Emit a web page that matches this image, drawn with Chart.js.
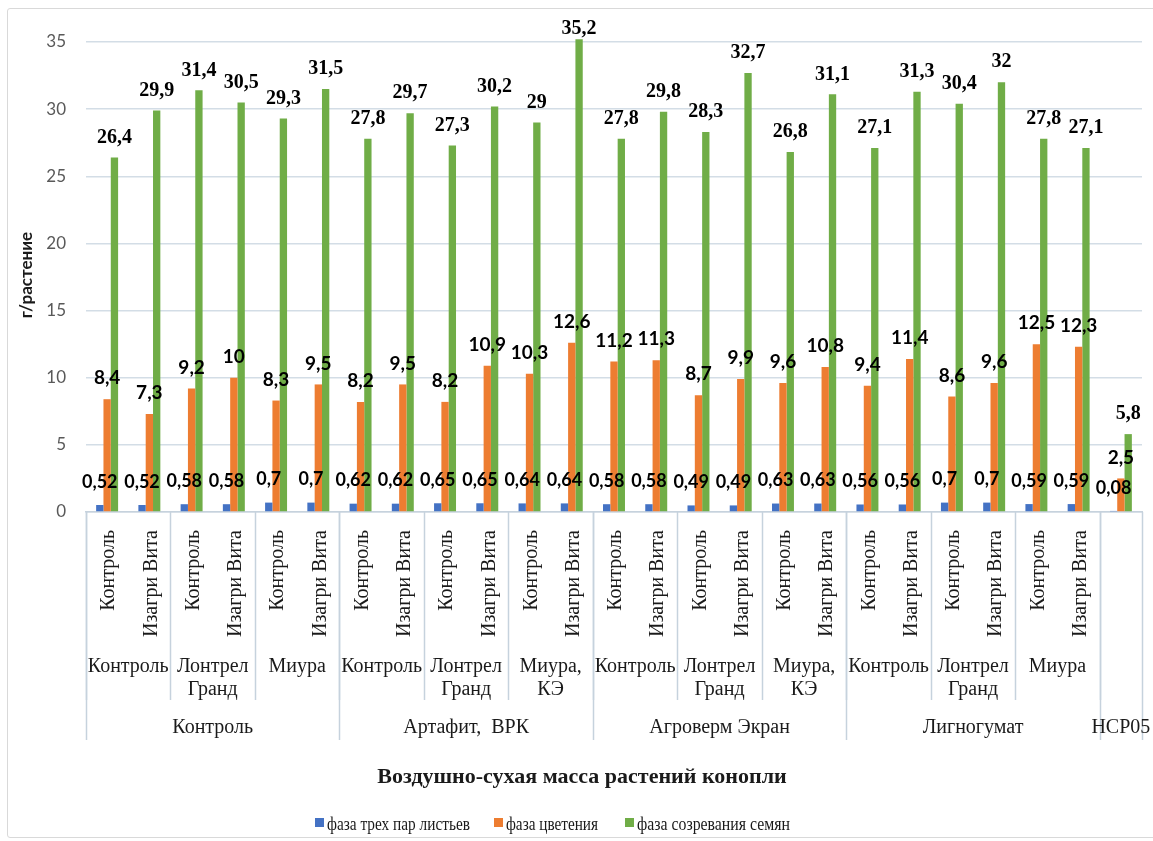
<!DOCTYPE html>
<html lang="ru">
<head>
<meta charset="utf-8">
<title>Воздушно-сухая масса растений конопли</title>
<script src="https://cdn.jsdelivr.net/npm/chart.js@4.4.1/dist/chart.umd.min.js"></script>
<style>
  html, body { margin: 0; padding: 0; background: #fff; }
  #wrap { position: relative; width: 1153px; height: 841px; overflow: hidden; }
  #frame { position: absolute; left: 7px; top: 8px; width: 1160px; height: 828px; border: 1px solid #d9d9d9; border-radius: 3px; }
  canvas { position: absolute; left: 0; top: 0; }
  .preload { font-family: "Liberation Serif"; position: absolute; left: -999px; }
</style>
</head>
<body>
<div id="wrap">
  <div id="frame"></div>
  <canvas id="chart" width="1153" height="841"></canvas>
</div>
<span class="preload">Контроль</span>
<span class="preload" style="font-weight:bold">Контроль</span>
<span class="preload" style="font-family:Lato">0,5</span>
<span class="preload" style="font-family:Lato;font-weight:bold">0,5</span>
<script>
// lowest label row (rotated), one per bar group
const treatments = [
  'Контроль', 'Изагри Вита', 'Контроль', 'Изагри Вита', 'Контроль', 'Изагри Вита',
  'Контроль', 'Изагри Вита', 'Контроль', 'Изагри Вита', 'Контроль', 'Изагри Вита',
  'Контроль', 'Изагри Вита', 'Контроль', 'Изагри Вита', 'Контроль', 'Изагри Вита',
  'Контроль', 'Изагри Вита', 'Контроль', 'Изагри Вита', 'Контроль', 'Изагри Вита',
  ''
];
// middle row, each covers two bar groups
const herbicides = [
  'Контроль', 'Лонтрел\nГранд', 'Миура',
  'Контроль', 'Лонтрел\nГранд', 'Миура,\nКЭ',
  'Контроль', 'Лонтрел\nГранд', 'Миура,\nКЭ',
  'Контроль', 'Лонтрел\nГранд', 'Миура'
];
// top row and how many bar groups each covers
const preparations = ['Контроль', 'Артафит,  ВРК', 'Агроверм Экран', 'Лигногумат', 'НСР05'];
const preparationSpans = [6, 6, 6, 6, 1];

const seriesNames = ['фаза трех пар листьев', 'фаза цветения', 'фаза созревания семян'];
const leafPhase = [0.52, 0.52, 0.58, 0.58, 0.7, 0.7, 0.62, 0.62, 0.65, 0.65, 0.64, 0.64,
  0.58, 0.58, 0.49, 0.49, 0.63, 0.63, 0.56, 0.56, 0.7, 0.7, 0.59, 0.59, 0.08];
const floweringPhase = [8.4, 7.3, 9.2, 10, 8.3, 9.5, 8.2, 9.5, 8.2, 10.9, 10.3, 12.6,
  11.2, 11.3, 8.7, 9.9, 9.6, 10.8, 9.4, 11.4, 8.6, 9.6, 12.5, 12.3, 2.5];
const seedPhase = [26.4, 29.9, 31.4, 30.5, 29.3, 31.5, 27.8, 29.7, 27.3, 30.2, 29, 35.2,
  27.8, 29.8, 28.3, 32.7, 26.8, 31.1, 27.1, 31.3, 30.4, 32, 27.8, 27.1, 5.8];

const colors = ['#4472c4', '#ed7d31', '#70ad47'];
const lineColor = '#c6d2dd';
const textColor = '#1a1a1a';
const serif = '"Liberation Serif", "Times New Roman", Tinos, serif';

const fmt = v => String(v).replace('.', ',');

// value labels above bars
const valueLabels = {
  id: 'valueLabels',
  afterDatasetsDraw(chart) {
    const ctx = chart.ctx;
    const fonts = ['bold 18px Lato', 'bold 19px Lato', 'bold 20px ' + serif];
    const offsets = [23, 21, 20];
    ctx.save();
    ctx.fillStyle = '#000';
    ctx.textAlign = 'center';
    ctx.textBaseline = 'middle';
    chart.data.datasets.forEach((ds, i) => {
      const meta = chart.getDatasetMeta(i);
      ctx.font = fonts[i];
      meta.data.forEach((bar, j) => {
        ctx.fillText(fmt(ds.data[j]), bar.x, Math.max(29, bar.y - offsets[i]));
      });
    });
    ctx.restore();
  }
};

// multi level category axis, titles and legend
const decorations = {
  id: 'decorations',
  afterDraw(chart) {
    const ctx = chart.ctx;
    const area = chart.chartArea;
    const w = (area.right - area.left) / treatments.length;
    const edge = n => area.left + n * w;
    const base = area.bottom;

    ctx.save();
    ctx.strokeStyle = lineColor;
    ctx.lineWidth = 1.5;
    // short separators between pairs
    for (let k = 0; k <= herbicides.length; k++) {
      const x = Math.round(edge(2 * k)) + 0.5;
      ctx.beginPath(); ctx.moveTo(x, base); ctx.lineTo(x, 700); ctx.stroke();
    }
    // long separators between preparations
    let n = 0;
    const starts = [0];
    preparationSpans.forEach(s => { n += s; starts.push(n); });
    starts.forEach(s => {
      const x = Math.round(edge(s)) + 0.5;
      ctx.beginPath(); ctx.moveTo(x, base); ctx.lineTo(x, 740); ctx.stroke();
    });

    ctx.fillStyle = textColor;
    ctx.font = '20px ' + serif;
    // rotated treatment labels
    treatments.forEach((t, i) => {
      if (!t) return;
      ctx.save();
      ctx.translate(edge(i) + w / 2 + 2, 530);
      ctx.rotate(-Math.PI / 2);
      ctx.textAlign = 'right';
      ctx.textBaseline = 'middle';
      ctx.fillText(t, 0, 0);
      ctx.restore();
    });
    // herbicide labels
    ctx.textAlign = 'center';
    ctx.textBaseline = 'middle';
    herbicides.forEach((h, k) => {
      const cx = edge(2 * k + 1);
      h.split('\n').forEach((line, li) => ctx.fillText(line, cx, 667 + li * 23));
    });
    // preparation labels
    preparations.forEach((p, g) => {
      const cx = (edge(starts[g]) + edge(starts[g + 1])) / 2;
      ctx.fillText(p, cx, 728);
    });

    // axis titles
    ctx.font = 'bold 22px ' + serif;
    ctx.fillText('Воздушно-сухая масса растений конопли', 582, 777);
    ctx.save();
    ctx.translate(27, 275);
    ctx.rotate(-Math.PI / 2);
    ctx.font = 'bold 17px Lato';
    ctx.fillText('г/растение', 0, 0);
    ctx.restore();

    // legend (text squeezed a little, as in the source picture)
    const legendX = [315, 494, 625];
    const legendW = [143, 92, 153];
    ctx.font = '18px ' + serif;
    ctx.textAlign = 'left';
    seriesNames.forEach((name, i) => {
      ctx.fillStyle = colors[i];
      ctx.fillRect(legendX[i], 818, 9, 9);
      ctx.fillStyle = textColor;
      const sx = Math.min(1, legendW[i] / ctx.measureText(name).width);
      ctx.save();
      ctx.translate(legendX[i] + 12, 825);
      ctx.scale(sx, 1);
      ctx.fillText(name, 0, 0);
      ctx.restore();
    });
    ctx.restore();
  }
};

function draw() {
  const ctx = document.getElementById('chart').getContext('2d');
  new Chart(ctx, {
    type: 'bar',
    data: {
      labels: treatments.map(t => t || preparations[preparations.length - 1]),
      datasets: [
        { label: seriesNames[0], data: leafPhase, backgroundColor: colors[0] },
        { label: seriesNames[1], data: floweringPhase, backgroundColor: colors[1] },
        { label: seriesNames[2], data: seedPhase, backgroundColor: colors[2] }
      ]
    },
    options: {
      responsive: false,
      animation: false,
      events: [],
      layout: { padding: { top: 42, right: 11, left: 0, bottom: 0 } },
      datasets: { bar: { categoryPercentage: 0.52, barPercentage: 1.0, clip: false } },
      plugins: {
        legend: { display: false },
        tooltip: { enabled: false }
      },
      scales: {
        x: {
          grid: { display: false, drawTicks: false },
          ticks: { display: false },
          border: { display: true, color: lineColor, width: 1.5 },
          afterFit(scale) { scale.height = 329; }
        },
        y: {
          min: 0,
          max: 35,
          ticks: { stepSize: 5, padding: 20, color: '#595959', font: { family: 'Lato', size: 17 } },
          grid: { color: '#d3dde6', lineWidth: 1.5, drawTicks: false },
          border: { display: false },
          afterFit(scale) { scale.width = 86; }
        }
      }
    },
    plugins: [valueLabels, decorations]
  });
}

Promise.all([
  document.fonts.load('20px "Liberation Serif"', 'Контроль'),
  document.fonts.load('bold 20px "Liberation Serif"', 'Контроль'),
  document.fonts.load('17px Lato', '05'),
  document.fonts.load('bold 18px Lato', '05')
]).then(draw, draw);
</script>
</body>
</html>
